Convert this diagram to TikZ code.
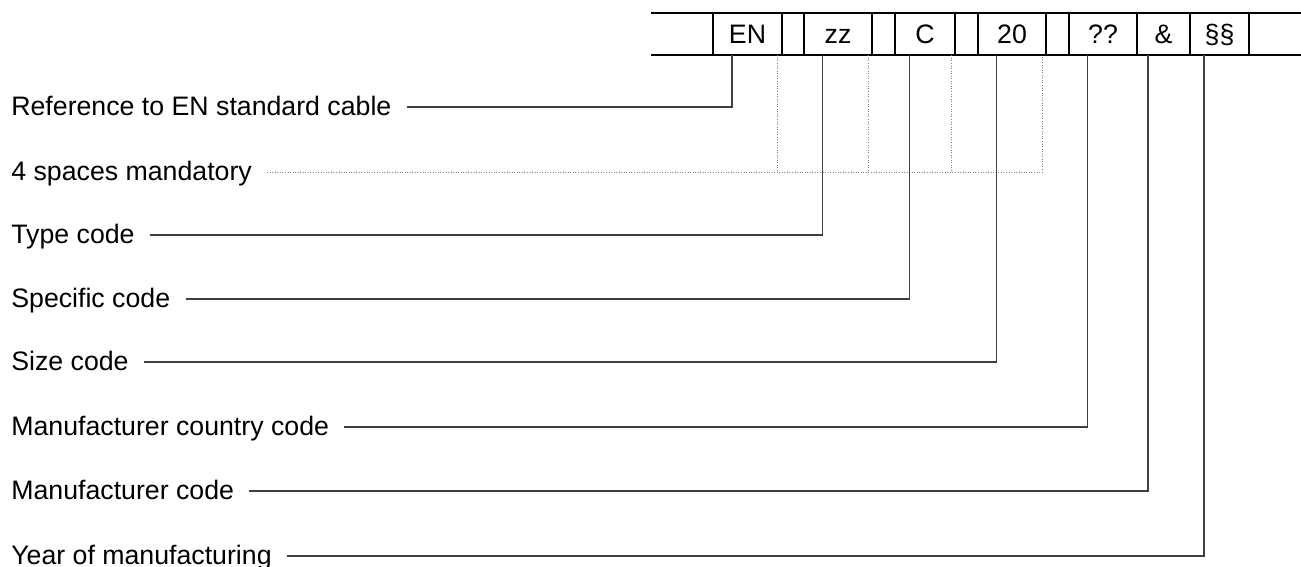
\documentclass[tikz,border=0pt]{standalone}
\usepackage{fontspec}
\setmainfont{Liberation Sans}

\tikzset{
    strip/.style={line width=1.1pt, black},
    leader/.style={line width=0.85pt, black!75},
    dotline/.style={line width=0.45pt, gray, densely dotted},
    celltext/.style={inner sep=0pt, minimum height=0.84cm, text height=10.9pt, text depth=0.6pt,
        font=\fontsize{15.2pt}{18pt}\selectfont},
    lbl/.style={anchor=west, inner sep=0pt, text height=12.2pt, text depth=3pt,
        font=\fontsize{15.2pt}{18pt}\selectfont}
}

\begin{document}
\begin{tikzpicture}[x=0.02cm, y=-0.02cm]
        \useasboundingbox (0,0) rectangle (1301,566);

        % marking strip
        \draw[strip] (651,13) -- (1301,13);
        \draw[strip] (651,55) -- (1301,55);
        \foreach \xa/\xb/\nm/\txt in {713/782/en/EN, 782/804/gapa/{}, 804/872/zz/zz,
            872/895/gapb/{}, 895/955/spec/C, 955/978/gapc/{}, 978/1046/size/20,
            1046/1069/gapd/{}, 1069/1137/ctry/??, 1137/1190/manu/\&, 1190/1249/year/§§} {
            \draw[strip] (\xa,13) -- (\xa,55);
            \node[celltext] (\nm) at ({(\xa+\xb)/2},34) {\txt};
        }
        \draw[strip] (1249,13) -- (1249,55);

        % labels
        \node[lbl] (lref) at (11,107) {Reference to EN standard cable};
        \node[lbl] (lsp) at (11,172) {4 spaces mandatory};
        \node[lbl] (ltype) at (11,235) {Type code};
        \node[lbl] (lspec) at (11,299) {Specific code};
        \node[lbl] (lsize) at (11,362) {Size code};
        \node[lbl] (lctry) at (11,427) {Manufacturer country code};
        \node[lbl] (lmanu) at (11,491) {Manufacturer code};
        \node[lbl] (lyear) at (11,556) {Year of manufacturing};

        % spaces
        \draw[dotline] ([xshift=0.3cm]lsp.east) -| ([xshift=-0.31cm]gapd.south);
        \draw[dotline] ([xshift=-0.31cm]gapa.south) -- ([xshift=-0.31cm]gapa.south |- lsp.east);
        \draw[dotline] ([xshift=-0.31cm]gapb.south) -- ([xshift=-0.31cm]gapb.south |- lsp.east);
        \draw[dotline] ([xshift=-0.31cm]gapc.south) -- ([xshift=-0.31cm]gapc.south |- lsp.east);

        % leaders
        \draw[leader] ([xshift=0.3cm]lref.east) -| ([xshift=-0.31cm]en.south);
        \draw[leader] ([xshift=0.3cm]ltype.east) -| ([xshift=-0.31cm]zz.south);
        \draw[leader] ([xshift=0.3cm]lspec.east) -| ([xshift=-0.31cm]spec.south);
        \draw[leader] ([xshift=0.3cm]lsize.east) -| ([xshift=-0.31cm]size.south);
        \draw[leader] ([xshift=0.3cm]lctry.east) -| ([xshift=-0.31cm]ctry.south);
        \draw[leader] ([xshift=0.3cm]lmanu.east) -| ([xshift=-0.31cm]manu.south);
        \draw[leader] ([xshift=0.3cm]lyear.east) -| ([xshift=-0.31cm]year.south);
    \end{tikzpicture}
\end{document}
